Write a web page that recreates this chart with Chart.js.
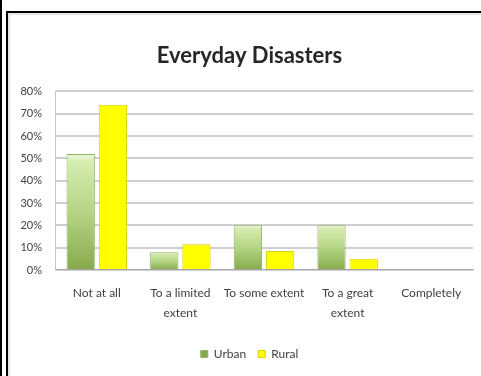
<!DOCTYPE html>
<html>
<head>
<meta charset="utf-8">
<script src="https://cdn.jsdelivr.net/npm/chart.js@4/dist/chart.umd.min.js"></script>
<style>
  html, body { margin: 0; padding: 0; background: #fff; }
  #wrap { position: relative; width: 481px; height: 376px; overflow: hidden; }
  #chart { position: absolute; left: 0; top: 0; }
  .rule { position: absolute; background: #000; }
  .shade { position: absolute; background: #e6e6e6; }
</style>
</head>
<body>
<div id="wrap">
  <canvas id="chart" width="481" height="376"></canvas>
  <div class="rule" style="left:0;top:0;width:2px;height:376px"></div>
  <div class="rule" style="left:6px;top:11px;width:2px;height:365px"></div>
  <div class="rule" style="left:6px;top:11px;width:475px;height:2px"></div>
  <div class="shade" style="left:8px;top:13px;width:2px;height:363px"></div>
  <div class="shade" style="left:8px;top:13px;width:473px;height:2px"></div>
</div>
<script>
// Survey answers, share of respondents per group
const categories = [
  ['Not at all'],
  ['To a limited', 'extent'],
  ['To some extent'],
  ['To a great', 'extent'],
  ['Completely']
];
const urbanValues = [52, 8, 20, 20, 0];
const ruralValues = [74, 11.5, 8.5, 5, 0.5];
const yTicks = [0, 10, 20, 30, 40, 50, 60, 70, 80];

const FONT = 'Lato, "Open Sans", sans-serif';

// Green bars fade from a pale top to a deeper olive base
function urbanFill(ctx) {
  if (ctx.type !== 'data') return '#9bbb59';
  const chart = ctx.chart;
  const y = chart.scales.y;
  const v = ctx.parsed ? ctx.parsed.y : 0;
  const top = y.getPixelForValue(v);
  const base = y.getPixelForValue(0);
  if (!isFinite(top) || !isFinite(base) || base - top < 1) return '#9bbb59';
  const g = chart.ctx.createLinearGradient(0, top, 0, base);
  g.addColorStop(0, '#eef8dc');
  g.addColorStop(0.07, '#d5ecb0');
  g.addColorStop(0.5, '#b5d584');
  g.addColorStop(1, '#86a94c');
  return g;
}

// Let the percent labels use the space left of the padded area
const widenYLabels = {
  id: 'widenYLabels',
  afterLayout(chart) {
    chart.scales.y.left = 10;
  }
};

new Chart(document.getElementById('chart'), {
  type: 'bar',
  data: {
    labels: categories,
    datasets: [
      {
        label: 'Urban',
        data: urbanValues,
        backgroundColor: urbanFill,
        borderColor: '#94b366',
        borderWidth: 1
      },
      {
        label: 'Rural',
        data: ruralValues,
        backgroundColor: '#ffff00',
        borderColor: '#d6d200',
        borderWidth: 1
      }
    ]
  },
  plugins: [widenYLabels],
  options: {
    responsive: false,
    animation: false,
    devicePixelRatio: 1,
    categoryPercentage: 0.77,
    barPercentage: 0.88,
    layout: { padding: { left: 26, right: 8, top: 0, bottom: 6 } },
    plugins: {
      title: {
        display: true,
        text: 'Everyday Disasters',
        color: '#262626',
        font: { family: FONT, size: 22, weight: 'bold' },
        padding: { top: 43, bottom: 22 }
      },
      legend: {
        position: 'bottom',
        labels: {
          boxWidth: 7,
          boxHeight: 7,
          padding: 12,
          color: '#404040',
          font: { family: FONT, size: 12 }
        }
      },
      tooltip: { enabled: false }
    },
    scales: {
      x: {
        grid: { display: false, drawTicks: false },
        border: { display: true, color: '#a6a6a6', width: 1 },
        ticks: {
          color: '#404040',
          padding: 13,
          maxRotation: 0,
          autoSkip: false,
          font: { family: FONT, size: 12, lineHeight: 1.667 }
        }
      },
      y: {
        min: 0,
        max: 80,
        afterFit: (s) => { s.width = 29; },
        afterBuildTicks: (s) => { s.ticks = yTicks.map(v => ({ value: v })); },
        grid: { color: '#cfcfcf', lineWidth: 2, drawTicks: false },
        border: { display: true, color: '#c4c4c4', width: 1 },
        ticks: {
          color: '#404040',
          padding: 13,
          font: { family: FONT, size: 11 },
          callback: (v) => v + '%'
        }
      }
    }
  }
});
</script>
</body>
</html>
